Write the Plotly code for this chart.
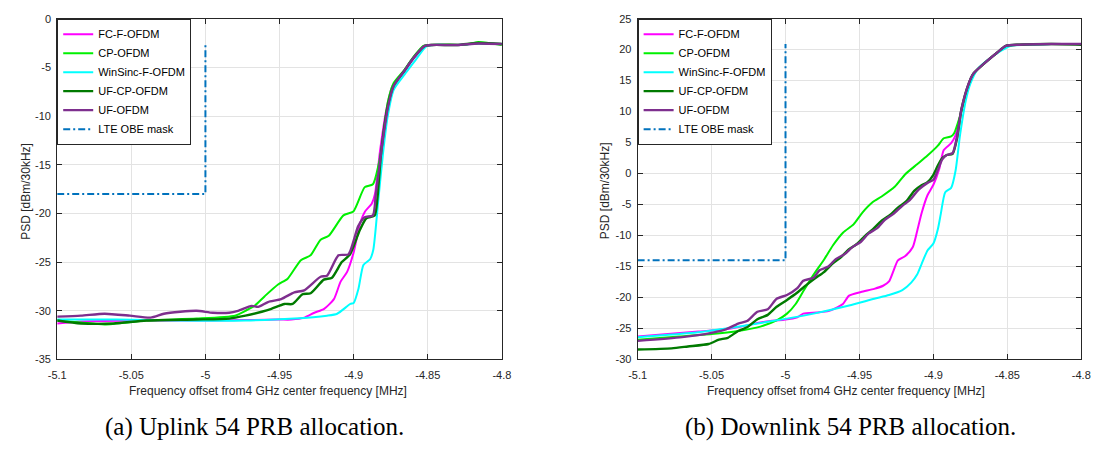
import plotly.graph_objects as go

# ---------------- data: (a) Uplink 54 PRB ----------------
ul_fc_f = [-5.1, -5.084, -5.04, -4.995, -4.951, -4.942, -4.9332, -4.9265, -4.9199, -4.9133, -4.9088, -4.9044,
           -4.9, -4.8956, -4.8923, -4.8878, -4.8856, -4.8823, -4.878, -4.874, -4.866, -4.86, -4.852, -4.847,
           -4.83, -4.816, -4.8]
ul_fc_p = [-31.3, -31.1, -31.0, -31.0, -30.9, -30.9, -30.7, -30.2, -29.8, -28.8, -27.0, -26.0,
           -24.0, -21.0, -19.8, -19.0, -18.0, -13.7, -9.4, -7.0, -5.5, -4.2, -2.85, -2.7,
           -2.7, -2.55, -2.6]

ul_cp_f = [-5.1, -5.084, -5.068, -5.04, -5.006, -4.98, -4.973, -4.967, -4.96, -4.951, -4.9445, -4.9356,
           -4.929, -4.9223, -4.9168, -4.9069, -4.9002, -4.8925, -4.887, -4.8825, -4.880, -4.877, -4.873,
           -4.866, -4.86, -4.853, -4.848, -4.835, -4.825, -4.816, -4.8]
ul_cp_p = [-31.0, -31.2, -31.4, -31.0, -30.8, -30.5, -30.0, -29.5, -28.5, -27.3, -26.7, -24.8,
           -24.3, -22.7, -22.3, -20.2, -19.8, -17.3, -17.0, -14.5, -12.0, -8.6, -6.6,
           -5.3, -4.0, -2.8, -2.7, -2.65, -2.7, -2.4, -2.7]

ul_ws_f = [-5.1, -5.06, -5.02, -4.973, -4.94, -4.918, -4.9111, -4.9022, -4.9, -4.8967, -4.8934, -4.8889,
           -4.8867, -4.8834, -4.8801, -4.877, -4.873, -4.865, -4.858, -4.851, -4.846, -4.83, -4.816, -4.8]
ul_ws_p = [-30.9, -30.9, -31.0, -31.0, -30.8, -30.5, -30.3, -29.3, -29.2, -27.7, -25.3, -24.7,
           -23.7, -18.7, -13.7, -10.0, -7.3, -5.6, -4.2, -2.85, -2.7, -2.7, -2.55, -2.6]

ul_ufcp_f = [-5.1, -5.084, -5.062, -5.04, -5.006, -4.984, -4.973, -4.962, -4.9555, -4.9467, -4.9412,
             -4.9345, -4.929, -4.9201, -4.9146, -4.908, -4.9024, -4.8958, -4.8914, -4.8858, -4.884,
             -4.8814, -4.877, -4.873, -4.866, -4.86, -4.852, -4.847, -4.83, -4.816, -4.8]
ul_ufcp_p = [-31.0, -31.3, -31.3, -31.0, -30.9, -30.8, -30.5, -30.1, -29.8, -29.3, -29.3,
             -28.3, -28.2, -26.8, -26.6, -25.0, -24.2, -21.7, -20.5, -20.2, -18.5,
             -13.7, -9.0, -6.9, -5.4, -4.1, -2.8, -2.7, -2.7, -2.5, -2.6]

ul_uf_f = [-5.1, -5.084, -5.068, -5.051, -5.037, -5.028, -5.017, -5.006, -4.995, -4.984, -4.978,
           -4.9688, -4.9644, -4.9578, -4.9489, -4.94, -4.9334, -4.9223, -4.918, -4.9102, -4.9035,
           -4.8969, -4.8925, -4.887, -4.885, -4.8814, -4.877, -4.873, -4.866, -4.86, -4.852, -4.847,
           -4.83, -4.816, -4.8]
ul_uf_p = [-30.6, -30.5, -30.3, -30.5, -30.7, -30.3, -30.1, -30.0, -30.2, -30.2, -30.0,
           -29.5, -29.6, -29.1, -28.8, -28.1, -27.9, -26.5, -26.4, -24.3, -24.2,
           -21.3, -20.4, -20.2, -18.0, -13.7, -9.2, -6.9, -5.4, -4.1, -2.8, -2.7,
           -2.7, -2.55, -2.6]

ul_mask_f = [-5.1, -5.0, -5.0]
ul_mask_p = [-18.0, -18.0, -2.6]

# ---------------- data: (b) Downlink 54 PRB ----------------
dl_fc_f = [-5.1, -5.059, -5.037, -5.014, -5.001, -4.992, -4.988, -4.979, -4.971, -4.965, -4.961, -4.957,
           -4.949, -4.94, -4.934, -4.93, -4.927, -4.924, -4.919, -4.914, -4.911, -4.908, -4.904, -4.9,
           -4.896, -4.893, -4.888, -4.885, -4.881, -4.877, -4.873, -4.866, -4.857, -4.851, -4.842,
           -4.82, -4.8]
dl_fc_p = [-26.3, -25.5, -25.0, -23.9, -23.6, -23.2, -22.6, -22.4, -22.2, -21.6, -21.0, -19.7,
           -19.1, -18.6, -18.1, -17.4, -15.7, -14.0, -13.3, -11.9, -9.3, -6.4, -3.5, -1.8,
           0.8, 3.8, 4.9, 6.2, 10.4, 14.0, 16.1, 17.7, 19.5, 20.6, 20.8,
           20.9, 20.9]

dl_cp_f = [-5.1, -5.072, -5.05, -5.032, -5.017, -5.006, -4.999, -4.993, -4.988, -4.981, -4.974, -4.968,
           -4.961, -4.954, -4.948, -4.941, -4.935, -4.926, -4.919, -4.911, -4.904, -4.897, -4.893,
           -4.888, -4.886, -4.882, -4.877, -4.873, -4.866, -4.857, -4.851, -4.842, -4.82, -4.8]
dl_cp_p = [-26.8, -26.3, -25.9, -25.4, -24.7, -23.7, -22.6, -21.0, -19.0, -16.3, -13.9, -11.6,
           -9.5, -8.2, -6.3, -4.6, -3.7, -2.1, -0.1, 1.5, 2.9, 4.5, 5.7,
           6.0, 6.5, 9.3, 13.5, 16.1, 17.7, 19.5, 20.6, 20.8, 20.9, 20.9]

dl_ws_f = [-5.1, -5.059, -5.014, -4.981, -4.957, -4.94, -4.93, -4.921, -4.915, -4.911, -4.908, -4.904,
           -4.9, -4.897, -4.895, -4.892, -4.888, -4.885, -4.882, -4.878, -4.875, -4.87, -4.864,
           -4.855, -4.848, -4.82, -4.8]
dl_ws_p = [-26.4, -25.6, -24.0, -22.6, -21.3, -20.2, -19.6, -18.8, -17.6, -16.3, -14.6, -12.4,
           -11.3, -9.0, -6.5, -3.0, -2.3, 0.5, 6.2, 11.9, 14.5, 16.9, 18.2,
           19.7, 20.6, 20.9, 20.9]

dl_ufcp_f = [-5.1, -5.077, -5.066, -5.052, -5.045, -5.039, -5.032, -5.026, -5.019, -5.012, -5.006,
             -4.999, -4.992, -4.986, -4.98, -4.974, -4.968, -4.963, -4.957, -4.952, -4.946, -4.941,
             -4.935, -4.93, -4.924, -4.918, -4.913, -4.908, -4.904, -4.9, -4.897, -4.894, -4.891,
             -4.887, -4.884, -4.881, -4.876, -4.873, -4.866, -4.857, -4.851, -4.842, -4.82, -4.8]
dl_ufcp_p = [-28.4, -28.2, -27.9, -27.5, -26.8, -26.5, -25.4, -24.8, -23.5, -22.8, -21.5,
             -20.4, -19.2, -18.0, -16.9, -15.9, -14.5, -13.6, -12.2, -11.4, -10.0, -9.0,
             -7.6, -6.8, -5.5, -4.4, -2.8, -1.9, -1.4, -0.2, 1.3, 2.5, 3.0,
             3.2, 5.7, 10.4, 14.6, 16.1, 17.7, 19.5, 20.6, 20.8, 20.9, 20.8]

dl_uf_f = [-5.1, -5.07, -5.05, -5.041, -5.032, -5.026, -5.019, -5.012, -5.006, -4.999, -4.992,
           -4.988, -4.981, -4.977, -4.971, -4.966, -4.96, -4.955, -4.949, -4.944, -4.938, -4.933,
           -4.927, -4.921, -4.916, -4.91, -4.904, -4.9, -4.897, -4.894, -4.891, -4.887, -4.884,
           -4.881, -4.876, -4.873, -4.866, -4.857, -4.851, -4.842, -4.82, -4.8]
dl_uf_p = [-27.0, -26.4, -25.7, -25.2, -24.2, -23.8, -22.3, -21.9, -20.2, -19.6, -18.5,
           -17.3, -16.8, -15.6, -15.0, -13.8, -13.0, -11.9, -11.0, -9.7, -8.8, -7.5,
           -6.5, -5.2, -4.3, -2.6, -1.5, -1.0, 0.6, 2.3, 3.0, 3.3, 6.0,
           10.4, 14.6, 16.1, 17.7, 19.5, 20.6, 20.8, 20.9, 20.9]

dl_mask_f = [-5.1, -5.0, -5.0]
dl_mask_p = [-14.0, -14.0, 20.9]

# ---------------- axis ticks / labels ----------------
x_tickvals = [-5.1, -5.05, -5.0, -4.95, -4.9, -4.85, -4.8]
x_ticktext = ["-5.1", "-5.05", "-5", "-4.95", "-4.9", "-4.85", "-4.8"]
ul_y_tickvals = [-35, -30, -25, -20, -15, -10, -5, 0]
ul_y_ticktext = ["-35", "-30", "-25", "-20", "-15", "-10", "-5", "0"]
dl_y_tickvals = [-30, -25, -20, -15, -10, -5, 0, 5, 10, 15, 20, 25]
dl_y_ticktext = ["-30", "-25", "-20", "-15", "-10", "-5", "0", "5", "10", "15", "20", "25"]

series_names = ["FC-F-OFDM", "CP-OFDM", "WinSinc-F-OFDM", "UF-CP-OFDM", "UF-OFDM", "LTE OBE mask"]
x_title = "Frequency offset from4 GHz center frequency [MHz]"
y_title = "PSD [dBm/30kHz]"
captions = ["(a) Uplink 54 PRB allocation.", "(b) Downlink 54 PRB allocation."]

# ---------------- styles ----------------
styles = [
    dict(color="#FF00FF", width=2),
    dict(color="#00F000", width=2),
    dict(color="#00FFFF", width=2),
    dict(color="#007A00", width=2.4),
    dict(color="#7E2F8E", width=2.4),
    dict(color="#0072BD", width=2, dash="7px,3px,2px,3px"),
]

W, H = 1108, 458
axc = "#262626"
font_sans = "Liberation Sans, Arial, sans-serif"

# pixel layout of the two axes boxes
left_px = (49, 501)
right_px = (639, 1090)
top_px, bot_px = 13, 363

fig = go.Figure()

ul_data = [(ul_fc_f, ul_fc_p), (ul_cp_f, ul_cp_p), (ul_ws_f, ul_ws_p),
           (ul_ufcp_f, ul_ufcp_p), (ul_uf_f, ul_uf_p), (ul_mask_f, ul_mask_p)]
dl_data = [(dl_fc_f, dl_fc_p), (dl_cp_f, dl_cp_p), (dl_ws_f, dl_ws_p),
           (dl_ufcp_f, dl_ufcp_p), (dl_uf_f, dl_uf_p), (dl_mask_f, dl_mask_p)]


def line_style(st):
    if "dash" in st:
        return dict(**st)
    return dict(shape="spline", smoothing=0.6, **st)


for (xs, ys), name, st in zip(ul_data, series_names, styles):
    fig.add_trace(go.Scatter(x=xs, y=ys, mode="lines", name=name, line=line_style(st),
                             xaxis="x", yaxis="y", legend="legend"))
for (xs, ys), name, st in zip(dl_data, series_names, styles):
    fig.add_trace(go.Scatter(x=xs, y=ys, mode="lines", name=name, line=line_style(st),
                             xaxis="x2", yaxis="y2", legend="legend2"))


def xd(px):
    return px / W


def yd(py):
    return 1 - py / H


common_axis = dict(showline=True, linecolor=axc, linewidth=1, mirror="ticks", ticks="inside",
                   ticklen=5, tickcolor=axc, tickwidth=1, showgrid=True, gridcolor="#E3E3E3",
                   gridwidth=1, zeroline=False, tickfont=dict(family=font_sans, size=11, color=axc))

legend_common = dict(bgcolor="white", bordercolor=axc, borderwidth=1,
                     font=dict(family=font_sans, size=11, color="#000000"),
                     xanchor="left", yanchor="top", xref="paper", yref="paper",
                     tracegroupgap=0, itemwidth=30)

fig.update_layout(
    width=W, height=H, margin=dict(l=0, r=0, t=0, b=0),
    paper_bgcolor="white", plot_bgcolor="white",
    xaxis=dict(domain=[xd(left_px[0]), xd(left_px[1])], range=[-5.1, -4.8], anchor="y",
               tickvals=x_tickvals, ticktext=x_ticktext, ticklabelstandoff=5, **common_axis),
    yaxis=dict(domain=[yd(bot_px), yd(top_px)], range=[-35, 0], anchor="x",
               tickvals=ul_y_tickvals, ticktext=ul_y_ticktext, ticklabelstandoff=3, **common_axis),
    xaxis2=dict(domain=[xd(right_px[0]), xd(right_px[1])], range=[-5.1, -4.8], anchor="y2",
                tickvals=x_tickvals, ticktext=x_ticktext, ticklabelstandoff=5, **common_axis),
    yaxis2=dict(domain=[yd(bot_px), yd(top_px)], range=[-30, 25], anchor="x2",
                tickvals=dl_y_tickvals, ticktext=dl_y_ticktext, ticklabelstandoff=3, **common_axis),
    legend=dict(x=xd(left_px[0]), y=yd(top_px), **legend_common),
    legend2=dict(x=xd(right_px[0]), y=yd(top_px), **legend_common),
    showlegend=True,
)

annotations = []
for cx in (263, 851):
    annotations.append(dict(text=x_title, x=xd(cx), y=yd(395), xref="paper", yref="paper",
                            showarrow=False, xanchor="center", yanchor="middle",
                            font=dict(family=font_sans, size=12, color=axc)))
for cx in (17, 606):
    annotations.append(dict(text=y_title, x=xd(cx), y=yd(190), xref="paper", yref="paper",
                            showarrow=False, xanchor="center", yanchor="middle", textangle=-90,
                            font=dict(family=font_sans, size=12, color=axc)))
for cx, cap in zip((250, 855), captions):
    annotations.append(dict(text=cap, x=xd(cx), y=yd(432), xref="paper", yref="paper",
                            showarrow=False, xanchor="center", yanchor="middle",
                            font=dict(family="Liberation Serif, serif", size=25, color="#000000")))
fig.update_layout(annotations=annotations)

fig.write_html("out.html")
